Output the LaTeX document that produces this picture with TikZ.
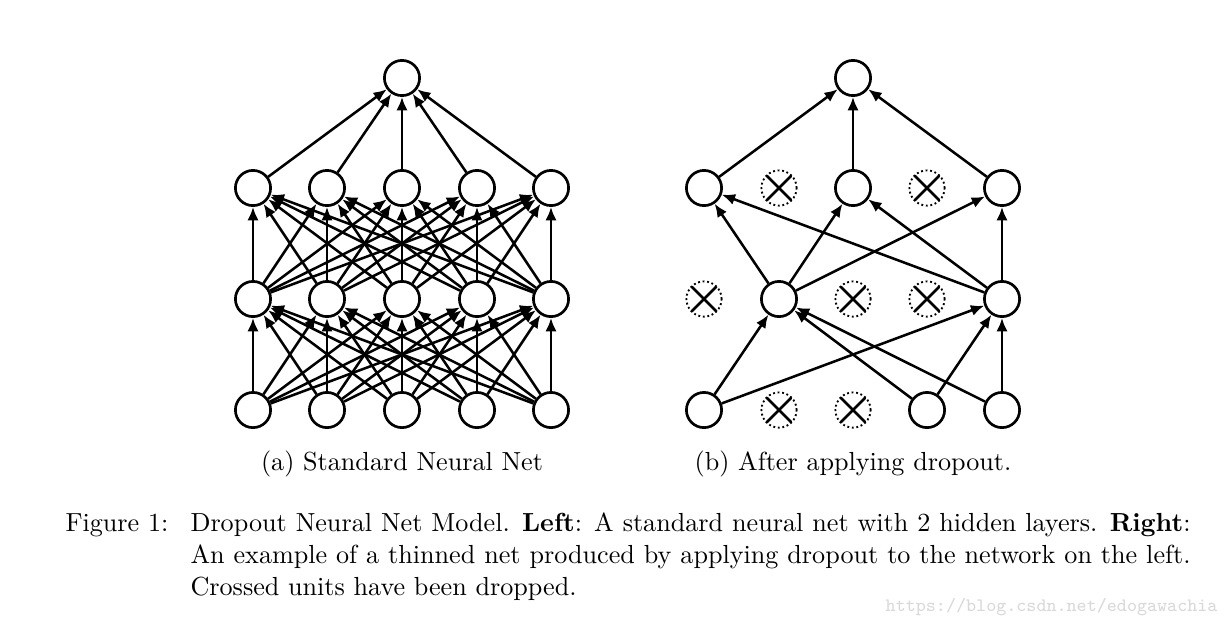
\documentclass[tikz,border=0pt]{standalone}
\usepackage{amsmath, amssymb}
\usepackage{tikz}
\usetikzlibrary{arrows.meta}

\tikzset{
  unit/.style={circle, draw, line width=1pt, minimum size=13.2pt, inner sep=0pt},
  dropped/.style={circle, draw, densely dotted, line width=0.7pt, minimum size=13.2pt, inner sep=0pt,
    path picture={\draw[solid, line width=1pt]
      (path picture bounding box.north west) -- (path picture bounding box.south east)
      (path picture bounding box.north east) -- (path picture bounding box.south west);}},
  conn/.style={-{Latex[length=5pt,width=4.2pt]}, line width=0.95pt},
  captxt/.style={font=\fontsize{9.8}{12}\selectfont},
}

\begin{document}
\begin{tikzpicture}[x=0.375pt,y=-0.375pt]
    \useasboundingbox (0,0) rectangle (1229,627);
    % standard net
    \foreach \i/\x in {1/253,2/327,3/402,4/477,5/551} {
        \node[unit] (a1-\i) at (\x,410) {};
        \node[unit] (a2-\i) at (\x,299) {};
        \node[unit] (a3-\i) at (\x,188) {};
    }
    \node[unit] (a4) at (402,78) {};
    \foreach \i in {1,...,5} {
        \foreach \j in {1,...,5} {
            \draw[conn] (a1-\i) -- (a2-\j);
            \draw[conn] (a2-\i) -- (a3-\j);
        }
        \draw[conn] (a3-\i) -- (a4);
    }
    % thinned net
    \node[unit]    (b1-1) at (704,410) {};
    \node[dropped] (b1-2) at (779,410) {};
    \node[dropped] (b1-3) at (853,410) {};
    \node[unit]    (b1-4) at (927,410) {};
    \node[unit]    (b1-5) at (1002,410) {};
    \node[dropped] (b2-1) at (704,299) {};
    \node[unit]    (b2-2) at (779,299) {};
    \node[dropped] (b2-3) at (853,299) {};
    \node[dropped] (b2-4) at (927,299) {};
    \node[unit]    (b2-5) at (1002,299) {};
    \node[unit]    (b3-1) at (704,188) {};
    \node[dropped] (b3-2) at (779,188) {};
    \node[unit]    (b3-3) at (853,188) {};
    \node[dropped] (b3-4) at (927,188) {};
    \node[unit]    (b3-5) at (1002,188) {};
    \node[unit]    (b4) at (853,78) {};
    \foreach \s/\t in {b1-1/b2-2, b1-1/b2-5, b1-4/b2-2, b1-5/b2-2, b1-4/b2-5, b1-5/b2-5,
                       b2-2/b3-1, b2-2/b3-3, b2-2/b3-5, b2-5/b3-1, b2-5/b3-3, b2-5/b3-5,
                       b3-1/b4, b3-3/b4, b3-5/b4}
        \draw[conn] (\s) -- (\t);
    % captions
    \node[captxt, anchor=base] (capa) at (402,470) {(a) Standard Neural Net};
    \node[captxt, anchor=base] (capb) at (853,470) {(b) After applying dropout.};
    \node[captxt, anchor=base west, inner sep=0pt] (fig) at (65,531) {Figure 1:};
    \node[captxt, anchor=base west, inner sep=0pt, text width=375pt, align=justify] (captext) at (190,531)
        {Dropout Neural Net Model. \textbf{Left}: A standard neural net with 2 hidden layers. \textbf{Right}:
         An example of a thinned net produced by applying dropout to the network on the left.
         Crossed units have been dropped.};
    \node[anchor=base east, inner sep=0pt, text=black!15!white, font=\ttfamily\fontsize{7.1}{8}\selectfont] (wm) at (1218,611)
        {https://blog.csdn.net/edogawachia};
\end{tikzpicture}
\end{document}
